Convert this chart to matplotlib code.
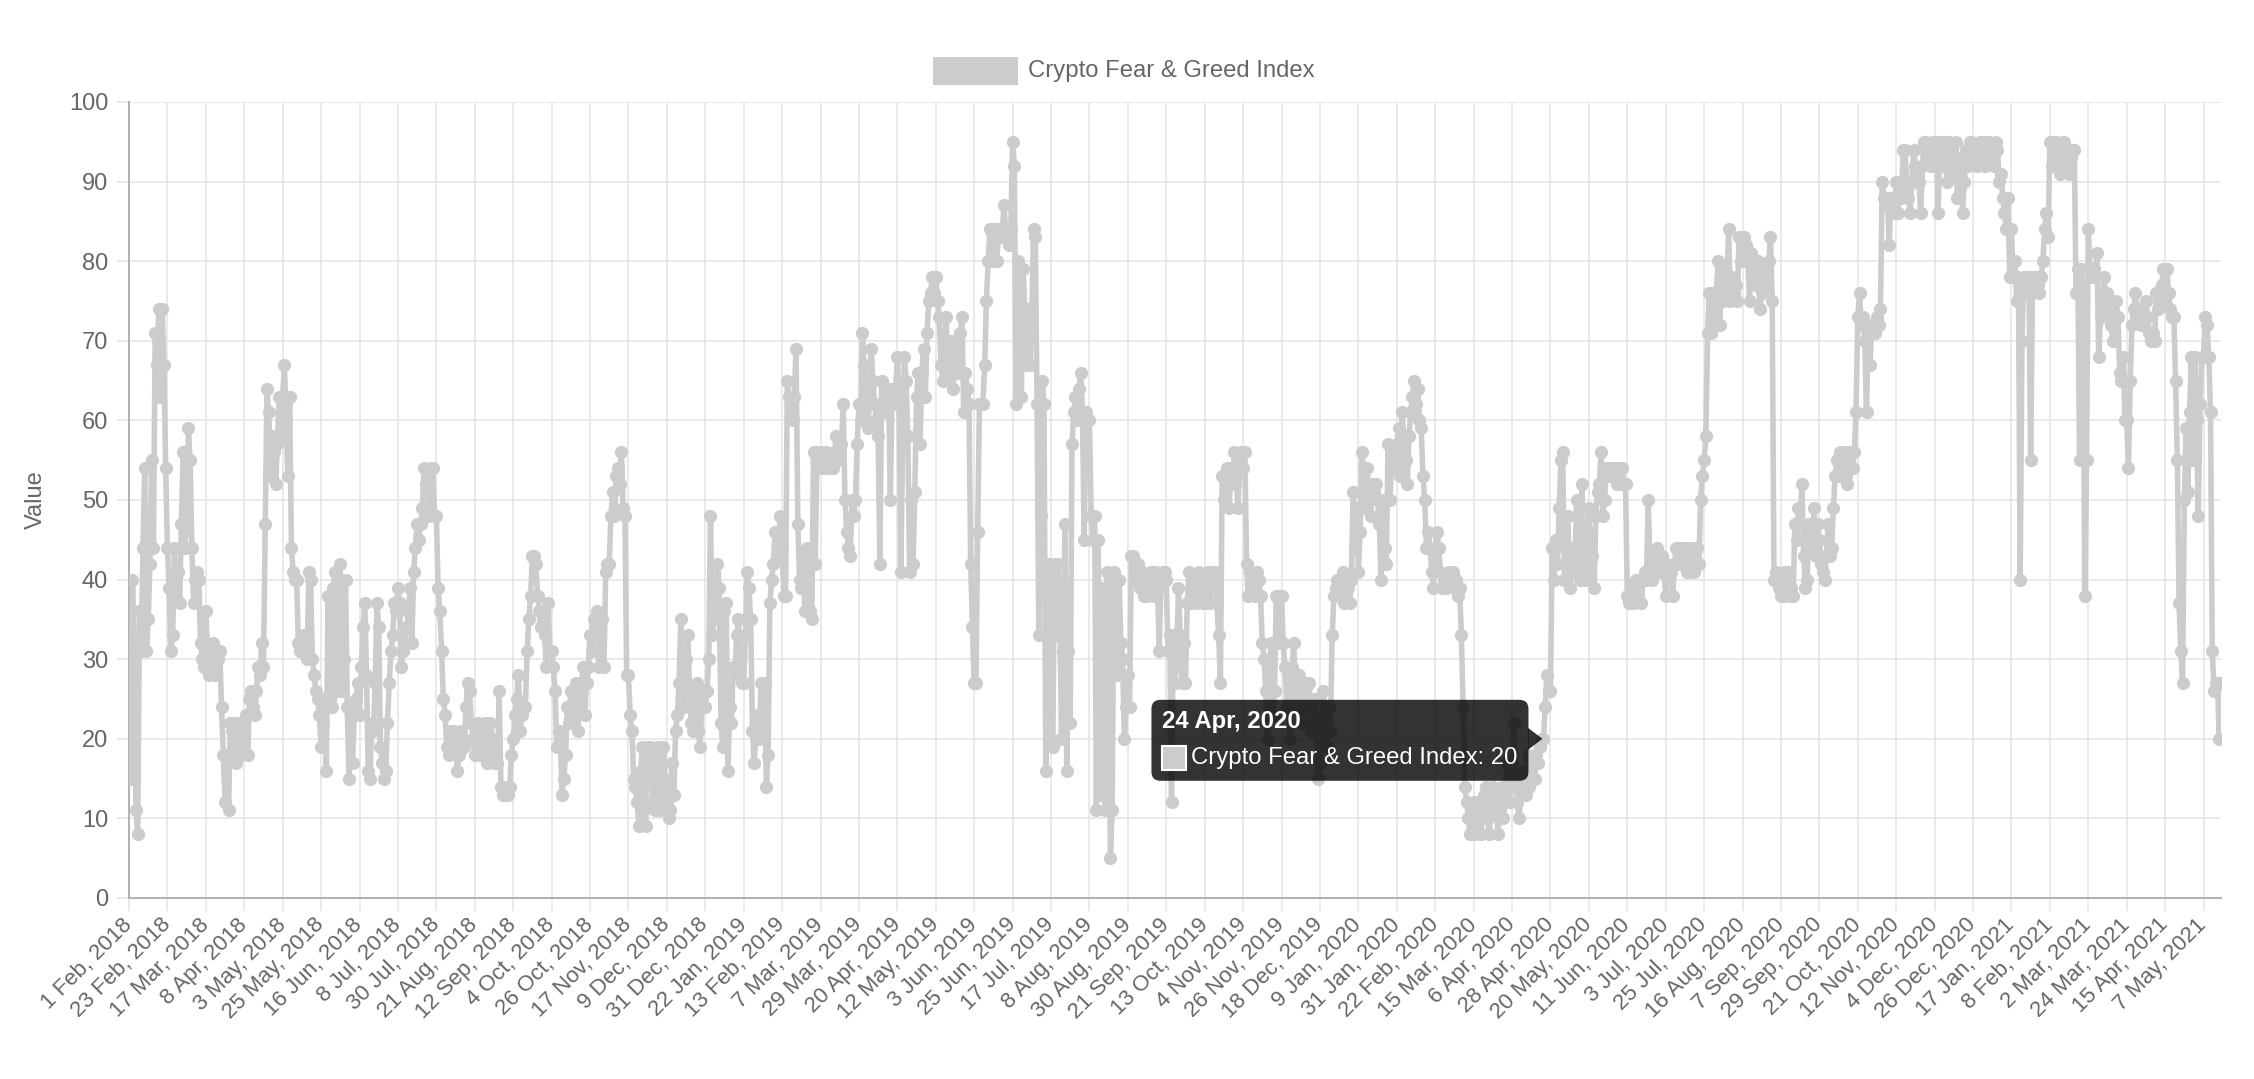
import numpy as np
import matplotlib.pyplot as plt
from matplotlib.patches import Rectangle, FancyBboxPatch, Polygon
from matplotlib.transforms import IdentityTransform

plt.rcParams['font.family'] = ['Liberation Sans', 'DejaVu Sans']

# one label every 22 daily points (category axis, auto-skipped)
tick_labels = [
    "1 Feb, 2018", "23 Feb, 2018", "17 Mar, 2018", "8 Apr, 2018", "3 May, 2018",
    "25 May, 2018", "16 Jun, 2018", "8 Jul, 2018", "30 Jul, 2018", "21 Aug, 2018",
    "12 Sep, 2018", "4 Oct, 2018", "26 Oct, 2018", "17 Nov, 2018", "9 Dec, 2018",
    "31 Dec, 2018", "22 Jan, 2019", "13 Feb, 2019", "7 Mar, 2019", "29 Mar, 2019",
    "20 Apr, 2019", "12 May, 2019", "3 Jun, 2019", "25 Jun, 2019", "17 Jul, 2019",
    "8 Aug, 2019", "30 Aug, 2019", "21 Sep, 2019", "13 Oct, 2019", "4 Nov, 2019",
    "26 Nov, 2019", "18 Dec, 2019", "9 Jan, 2020", "31 Jan, 2020", "22 Feb, 2020",
    "15 Mar, 2020", "6 Apr, 2020", "28 Apr, 2020", "20 May, 2020", "11 Jun, 2020",
    "3 Jul, 2020", "25 Jul, 2020", "16 Aug, 2020", "7 Sep, 2020", "29 Sep, 2020",
    "21 Oct, 2020", "12 Nov, 2020", "4 Dec, 2020", "26 Dec, 2020", "17 Jan, 2021",
    "8 Feb, 2021", "2 Mar, 2021", "24 Mar, 2021", "15 Apr, 2021", "7 May, 2021",
]

# daily index values, one row per 22-day label interval
fng_values = [
    30, 15, 40, 30, 11, 8, 36, 31, 44, 54, 31, 35, 42, 55, 44, 71, 67, 74, 63, 74, 67, 54,
    44, 39, 31, 33, 44, 38, 41, 37, 47, 56, 44, 47, 59, 55, 44, 37, 40, 41, 40, 32, 30, 29,
    36, 31, 28, 30, 32, 28, 31, 30, 31, 24, 18, 12, 18, 11, 22, 21, 22, 17, 20, 22, 18, 20,
    21, 23, 18, 25, 26, 24, 23, 26, 29, 28, 32, 29, 47, 64, 61, 53, 58, 56, 52, 57, 63, 58,
    63, 67, 60, 53, 63, 44, 41, 40, 40, 32, 31, 32, 33, 31, 30, 41, 40, 30, 28, 26, 25, 23,
    19, 22, 25, 16, 38, 25, 24, 39, 41, 26, 40, 42, 26, 30, 40, 24, 15, 23, 17, 23, 25, 27,
    23, 29, 34, 37, 28, 16, 15, 22, 21, 27, 37, 34, 19, 17, 15, 16, 22, 27, 31, 33, 37, 36,
    39, 37, 29, 31, 32, 34, 36, 39, 32, 41, 44, 47, 45, 47, 49, 54, 52, 53, 48, 54, 54, 48,
    48, 39, 36, 31, 25, 23, 19, 18, 21, 20, 21, 19, 16, 18, 21, 20, 19, 24, 27, 26, 22, 20,
    18, 21, 22, 18, 20, 19, 22, 17, 18, 22, 20, 17, 18, 17, 26, 14, 13, 14, 13, 13, 14, 18,
    20, 23, 25, 28, 21, 23, 24, 24, 31, 35, 38, 43, 43, 42, 38, 36, 34, 35, 33, 29, 37, 31,
    31, 29, 26, 19, 21, 20, 13, 15, 18, 24, 22, 26, 23, 25, 27, 21, 25, 27, 29, 23, 27, 29,
    33, 31, 35, 34, 36, 29, 33, 35, 29, 41, 42, 42, 48, 51, 48, 53, 54, 52, 56, 49, 48, 28,
    28, 23, 21, 15, 14, 12, 9, 16, 19, 11, 9, 19, 15, 19, 12, 11, 17, 19, 11, 14, 19, 15,
    12, 10, 11, 17, 13, 21, 23, 27, 35, 27, 24, 30, 33, 26, 22, 21, 26, 27, 21, 19, 24, 26,
    24, 26, 30, 48, 33, 35, 36, 42, 39, 22, 19, 36, 37, 16, 24, 22, 29, 28, 33, 35, 30, 27,
    27, 33, 41, 39, 35, 21, 17, 21, 23, 20, 27, 22, 27, 14, 18, 37, 40, 42, 46, 43, 44, 48,
    44, 38, 38, 65, 63, 62, 60, 63, 69, 47, 40, 39, 43, 36, 44, 38, 36, 35, 56, 42, 56, 55,
    56, 54, 55, 56, 54, 55, 54, 54, 56, 58, 55, 56, 57, 62, 50, 46, 44, 43, 50, 48, 50, 57,
    62, 60, 71, 67, 60, 59, 62, 69, 65, 62, 60, 58, 42, 65, 61, 62, 63, 64, 50, 64, 62, 64,
    68, 62, 41, 58, 68, 65, 58, 41, 50, 42, 51, 63, 66, 57, 66, 69, 63, 71, 75, 76, 78, 76,
    78, 75, 73, 67, 65, 70, 73, 66, 70, 68, 64, 70, 66, 68, 71, 73, 61, 66, 64, 62, 42, 34,
    27, 27, 46, 62, 62, 62, 67, 75, 80, 84, 80, 84, 84, 80, 84, 84, 83, 87, 84, 84, 82, 84,
    95, 92, 62, 80, 74, 63, 79, 74, 67, 74, 67, 73, 84, 83, 62, 33, 48, 65, 62, 16, 33, 42,
    20, 19, 42, 33, 42, 37, 20, 31, 47, 16, 31, 22, 57, 61, 63, 60, 64, 66, 61, 45, 61, 60,
    60, 48, 45, 48, 11, 45, 13, 39, 31, 11, 41, 39, 5, 11, 41, 32, 28, 40, 32, 30, 20, 24,
    28, 24, 43, 43, 41, 40, 42, 39, 41, 38, 39, 38, 40, 41, 41, 38, 41, 39, 31, 40, 41, 41,
    40, 31, 33, 12, 33, 27, 31, 39, 33, 27, 32, 27, 37, 41, 37, 39, 40, 37, 39, 41, 40, 37,
    37, 38, 41, 37, 40, 41, 41, 37, 33, 27, 53, 50, 53, 54, 49, 54, 52, 56, 54, 49, 54, 56,
    54, 56, 42, 38, 41, 40, 39, 38, 41, 40, 38, 32, 30, 26, 20, 29, 32, 23, 26, 38, 32, 38,
    38, 32, 29, 24, 28, 20, 29, 32, 26, 24, 28, 27, 22, 24, 27, 25, 27, 21, 23, 25, 21, 15,
    17, 22, 26, 23, 19, 24, 21, 33, 38, 39, 40, 38, 40, 41, 37, 38, 39, 37, 40, 51, 44, 49,
    41, 46, 56, 54, 49, 54, 51, 48, 52, 51, 52, 50, 47, 40, 50, 44, 42, 57, 50, 54, 56, 55,
    57, 59, 53, 61, 58, 55, 52, 58, 61, 63, 65, 62, 64, 60, 59, 53, 50, 44, 46, 44, 41, 39,
    44, 46, 44, 41, 39, 40, 39, 40, 41, 40, 41, 39, 40, 38, 39, 33, 24, 14, 12, 10, 8, 10,
    12, 8, 10, 12, 8, 10, 13, 14, 10, 8, 12, 14, 13, 11, 8, 12, 14, 10, 12, 17, 14, 12,
    17, 22, 16, 12, 10, 13, 15, 16, 13, 18, 14, 15, 17, 15, 18, 17, 19, 20, 20, 24, 28, 26,
    26, 44, 40, 45, 42, 49, 55, 56, 40, 44, 48, 39, 41, 44, 42, 50, 48, 40, 52, 43, 40, 41,
    49, 44, 43, 39, 48, 51, 52, 56, 48, 50, 54, 53, 54, 54, 53, 54, 52, 54, 52, 54, 52, 52,
    38, 37, 39, 38, 37, 40, 38, 40, 37, 40, 41, 40, 50, 42, 40, 41, 43, 44, 42, 41, 43, 41,
    38, 42, 40, 41, 38, 42, 44, 44, 42, 44, 43, 44, 41, 44, 41, 44, 41, 42, 44, 42, 50, 53,
    55, 58, 71, 76, 71, 76, 72, 76, 80, 72, 79, 75, 76, 77, 84, 75, 78, 76, 77, 75, 83, 80,
    80, 83, 82, 80, 75, 81, 78, 77, 79, 80, 74, 76, 79, 78, 77, 80, 83, 75, 40, 41, 40, 39,
    38, 38, 41, 40, 41, 38, 39, 38, 47, 45, 49, 47, 52, 43, 39, 40, 47, 45, 44, 49, 43, 47,
    45, 42, 41, 40, 43, 47, 43, 44, 49, 53, 55, 53, 56, 55, 56, 53, 52, 56, 56, 54, 56, 61,
    73, 76, 72, 73, 70, 61, 72, 67, 72, 71, 71, 73, 72, 74, 90, 88, 87, 88, 82, 88, 88, 86,
    90, 86, 89, 88, 94, 94, 90, 88, 86, 90, 94, 92, 90, 90, 86, 92, 95, 95, 93, 94, 92, 95,
    95, 95, 86, 95, 95, 92, 95, 90, 95, 92, 94, 91, 95, 88, 92, 93, 86, 90, 94, 92, 95, 95,
    93, 94, 92, 93, 95, 93, 95, 92, 93, 95, 93, 94, 92, 95, 94, 90, 91, 88, 86, 84, 88, 78,
    84, 78, 80, 75, 78, 40, 70, 78, 78, 76, 78, 55, 76, 78, 78, 77, 76, 78, 80, 84, 86, 83,
    95, 92, 95, 95, 92, 94, 91, 95, 95, 92, 94, 91, 93, 94, 94, 76, 79, 55, 79, 76, 38, 55,
    84, 79, 78, 79, 78, 81, 68, 73, 74, 78, 75, 76, 75, 72, 70, 72, 75, 73, 66, 65, 68, 60,
    60, 54, 65, 72, 74, 76, 74, 73, 72, 72, 72, 75, 73, 71, 70, 71, 70, 76, 74, 75, 77, 79,
    79, 79, 76, 74, 73, 73, 65, 55, 37, 31, 27, 50, 59, 51, 61, 68, 55, 68, 60, 48, 62, 68,
    68, 73, 72, 68, 61, 31, 26, 27, 27, 20, 27,
]

series_name = "Crypto Fear & Greed Index"
tooltip_index = 36 * 22 + 18   # 24 Apr, 2020
tooltip_date = "24 Apr, 2020"

W, H = 2254, 1079
fig = plt.figure(figsize=(W / 100, H / 100), dpi=100)
fig.patch.set_facecolor("white")
ax = fig.add_axes([129 / W, 1 - 898 / H, (2221 - 129) / W, (898 - 102) / H])

x = np.arange(len(fng_values))
ax.plot(x, fng_values, color="#cccccc", lw=4.0, marker="o", ms=9.5,
        mec="none", zorder=3, solid_joinstyle="round")

ax.set_xlim(0, len(fng_values) - 1)
ax.set_ylim(0, 100)
ax.set_yticks(range(0, 101, 10))
ax.set_xticks(range(0, 22 * len(tick_labels), 22))
ax.set_xticklabels(tick_labels, rotation=45, ha="right", va="center",
                   rotation_mode="anchor")
ax.grid(True, color="#e4e4e4", lw=1.1)
ax.set_axisbelow(True)
for side in ["top", "right"]:
    ax.spines[side].set_visible(False)
for side in ["left", "bottom"]:
    ax.spines[side].set_color("#b0b0b0")
    ax.spines[side].set_linewidth(1.4)
ax.tick_params(axis="both", length=9, width=1.1, color="#e4e4e4",
               labelcolor="#666666")
ax.tick_params(axis="y", pad=6, labelsize=17)
ax.tick_params(axis="x", pad=8, labelsize=16)

fig.text(36 / W, 1 - 500 / H, "Value", rotation=90, ha="center", va="center",
         color="#666666", fontsize=17)

# legend on top
fig.add_artist(Rectangle((933 / W, 1 - 85 / H), 85 / W, 28 / H,
                         transform=fig.transFigure, fc="#cccccc", ec="none"))
fig.text(1028 / W, 1 - 71 / H, series_name, ha="left", va="center",
         color="#666666", fontsize=17.2)

# hover tooltip
px, py = ax.transData.transform((tooltip_index, fng_values[tooltip_index]))
ident = IdentityTransform()
fig.add_artist(FancyBboxPatch((px - 392, py - 42), 377, 81,
                              boxstyle="round,pad=0,rounding_size=9",
                              transform=ident, fc=(0, 0, 0, 0.8), ec="none",
                              zorder=10))
fig.add_artist(Polygon([[px - 15.5, py - 11], [px - 1, py], [px - 15.5, py + 11]],
                       closed=True, transform=ident, fc=(0, 0, 0, 0.8),
                       ec="none", zorder=10))
fig.text(px - 381, py + 17, tooltip_date, transform=ident, ha="left",
         va="center", color="white", fontsize=17.2, fontweight="bold", zorder=11)
fig.add_artist(Rectangle((px - 381, py - 31), 24, 24, transform=ident,
                         fc="#cccccc", ec="white", lw=1.5, zorder=11))
fig.text(px - 352, py - 19,
         f"{series_name}: {fng_values[tooltip_index]}",
         transform=ident, ha="left", va="center", color="white", fontsize=17.2,
         zorder=11)

fig.savefig("out.png", dpi=100)
